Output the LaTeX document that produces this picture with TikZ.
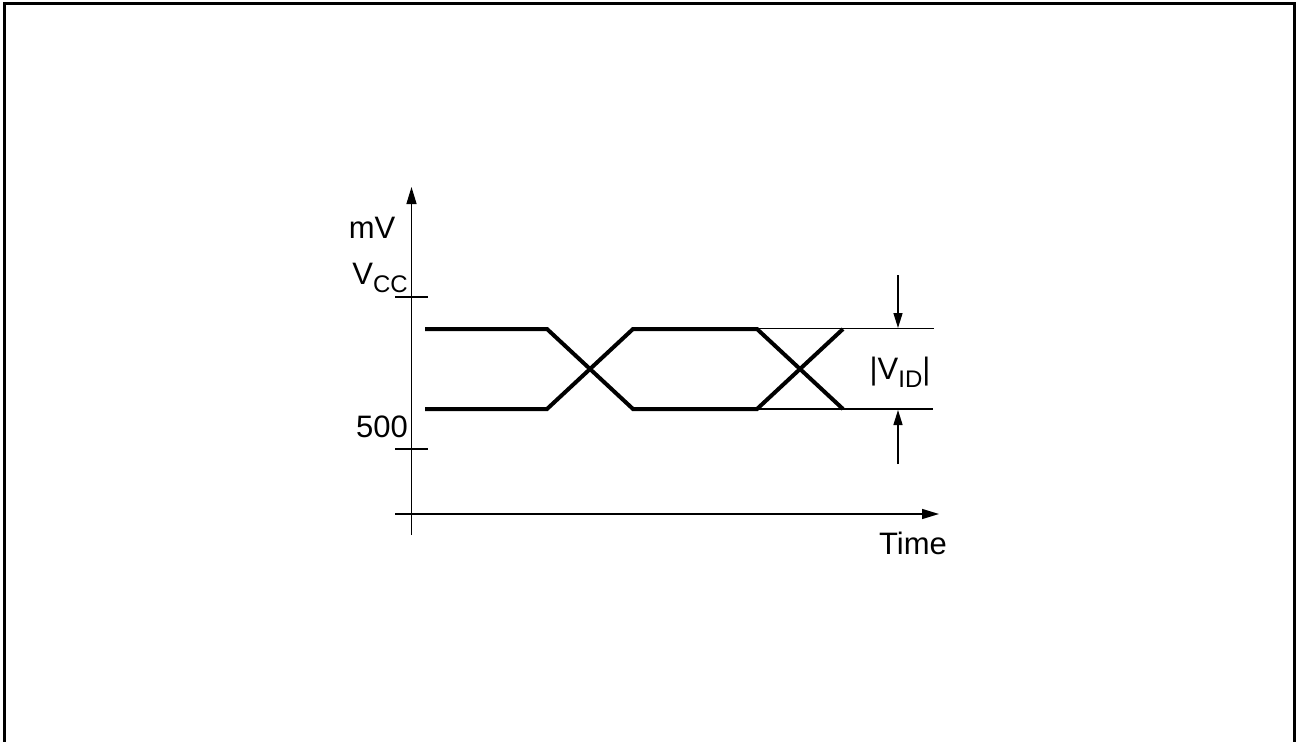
\documentclass[tikz,border=0pt]{standalone}
\usepackage{fontspec}
\setmainfont{Liberation Sans}
\usetikzlibrary{arrows.meta}
\begin{document}
\begin{tikzpicture}[x=1pt,y=-1pt,
  thin line/.style={line width=1.4pt},
  sig/.style={line width=4pt,line join=miter},
  axis arrow/.style={thin line,-{Triangle[length=17pt,width=10pt]}},
  dim arrow/.style={thin line,-{Triangle[length=15pt,width=9pt]}},
  lbl/.style={font=\fontsize{31}{34}\selectfont,inner sep=0pt}]
\useasboundingbox (0,0) rectangle (1297,741);
\draw[line width=3pt] (4,745) -- (4,4) -- (1294,4) -- (1294,745);
% axes
\coordinate (ybot) at (411.5,535);
\coordinate (ytop) at (411.5,187);
\coordinate (xleft) at (395,514);
\coordinate (xright) at (939,514);
\draw[axis arrow] (ybot) -- (ytop);
\draw[axis arrow] (xleft) -- (xright);
% ticks
\coordinate (vccL) at (395,297);
\coordinate (vccR) at (428,297);
\coordinate (fL) at (395,449);
\coordinate (fR) at (428,449);
\draw[thin line] (vccL) -- (vccR);
\draw[thin line] (fL) -- (fR);
% labels
\node[lbl] (mv) at (372,228) {mV};
\node[lbl,anchor=base east] (vcc) at (408,284) {V\raisebox{-8pt}{\fontsize{24}{26}\selectfont CC}};
\node[lbl,anchor=east] (five) at (408,427) {500};
\node[lbl] (time) at (913,543) {Time};
\node[lbl] (vid) at (900,372) {|V\raisebox{-8pt}{\fontsize{24}{26}\selectfont ID}|};
% signals
\draw[sig] (425,329) -- (547,329) -- (633,409) -- (757,409) -- (843,329);
\draw[sig] (425,409) -- (547,409) -- (633,329) -- (757,329) -- (843,409);
% reference lines
\coordinate (hiA) at (757,328.5);
\coordinate (hiB) at (934,328.5);
\coordinate (loA) at (757,409);
\coordinate (loB) at (933,409);
\draw[thin line] (hiA) -- (hiB);
\draw[thin line] (loA) -- (loB);
% dimension arrows
\coordinate (dtop0) at (898,275);
\coordinate (dtop1) at (898,328);
\coordinate (dbot0) at (898,464);
\coordinate (dbot1) at (898,410);
\draw[dim arrow] (dtop0) -- (dtop1);
\draw[dim arrow] (dbot0) -- (dbot1);
\end{tikzpicture}
\end{document}
